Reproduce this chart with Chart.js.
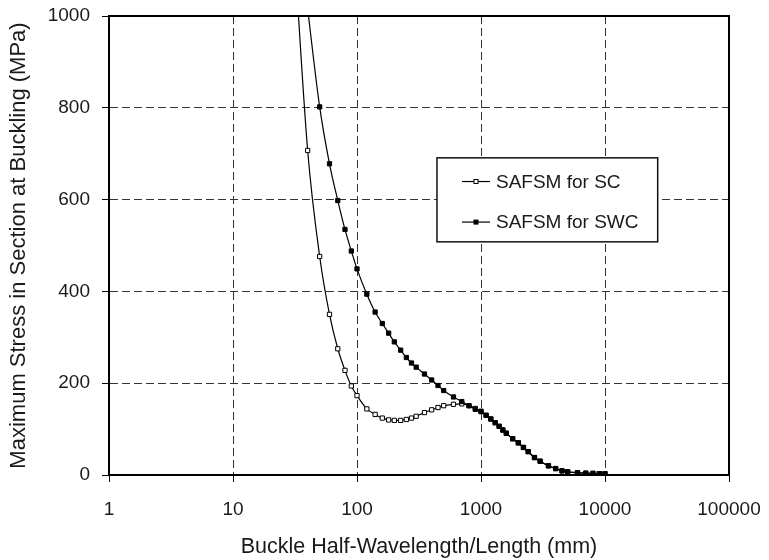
<!DOCTYPE html>
<html>
<head>
<meta charset="utf-8">
<script src="https://cdn.jsdelivr.net/npm/chart.js@4/dist/chart.umd.min.js"></script>
<style>
  html, body { margin: 0; padding: 0; background: #fff; }
  #wrap { width: 769px; height: 560px; }
</style>
</head>
<body>
<div id="wrap"><canvas id="c" width="769" height="560"></canvas></div>
<script>
// ---- data ----
const seriesNames = ['SAFSM for SC', 'SAFSM for SWC'];
const lengthsSC = [30,40,50,60,70,80,90,100,120,140,160,180,200,225,250,275,300,350,400,450,500,600,700,800,900,1000,1100,1200,1300,1400,1500,1600,1800,2000,2200,2400,2700,3000,3500,4000,4500,5000,6000,7000,8000,9000,10000];
const stressSC  = [1220,707,476,350,275,228,194,173,144,132,124,120,119,119,121,124,128,136,142,147,151,154,155,151,145,139,130,122,114,106,98,91,79,70,60,51,38,30,20,14,9,7,5,4,3.5,3,3];
const lengthsSWC = [40,50,60,70,80,90,100,120,140,160,180,200,225,250,275,300,350,400,450,500,600,700,800,900,1000,1100,1200,1300,1400,1500,1600,1800,2000,2200,2400,2700,3000,3500,4000,4500,5000,6000,7000,8000,9000,10000];
const stressSWC  = [1015,802,678,598,535,488,449,394,355,330,309,290,272,256,244,235,220,207,195,184,170,160,151,143,138,130,122,114,106,98,91,79,70,60,51,38,30,20,14,9,7,5,4,3.5,3,3];
const xTickValues = [1,10,100,1000,10000,100000];
const xTickLabels = ['1','10','100','1000','10000','100000'];
const yTickValues = [0,200,400,600,800,1000];
const yTickLabels = ['0','200','400','600','800','1000'];
const xTitle = 'Buckle Half-Wavelength/Length (mm)';
const yTitle = 'Maximum Stress in Section at Buckling (MPa)';

const toPts = (xs, ys) => xs.map((x, i) => ({ x: x, y: ys[i] }));

const FONT = '"Liberation Sans", Arial, Helvetica, sans-serif';

const frameAndLegend = {
  id: 'frameAndLegend',
  afterDraw(chart) {
    const ctx = chart.ctx;
    const ca = chart.chartArea;
    const w = ca.right - ca.left, h = ca.bottom - ca.top;
    ctx.save();
    // frame
    ctx.strokeStyle = '#000';
    ctx.lineWidth = 2;
    ctx.strokeRect(ca.left, ca.top, w, h);
    // legend box
    const bx = ca.left + 0.529 * w, by = ca.top + 0.309 * h;
    const bw = 0.356 * w, bh = 0.183 * h;
    ctx.fillStyle = '#fff';
    ctx.fillRect(bx, by, bw, bh);
    ctx.lineWidth = 1.5;
    ctx.strokeStyle = '#111';
    ctx.strokeRect(bx, by, bw, bh);
    const rows = [0.282, 0.765];
    chart.data.datasets.forEach((ds, i) => {
      const y = by + rows[i] * bh;
      const x0 = bx + 25, x1 = bx + 53;
      ctx.strokeStyle = '#000';
      ctx.lineWidth = 1.2;
      ctx.beginPath(); ctx.moveTo(x0, y); ctx.lineTo(x1, y); ctx.stroke();
      const s = 4;
      const mx = (x0 + x1) / 2;
      ctx.fillStyle = ds.pointBackgroundColor;
      ctx.fillRect(mx - s / 2, y - s / 2, s, s);
      ctx.lineWidth = 1;
      ctx.strokeRect(mx - s / 2, y - s / 2, s, s);
      ctx.fillStyle = '#1a1a1a';
      ctx.font = '19px ' + FONT;
      ctx.textBaseline = 'middle';
      ctx.textAlign = 'left';
      ctx.fillText(ds.label, bx + 59, y + 1);
    });
    ctx.restore();
  }
};

new Chart(document.getElementById('c'), {
  type: 'line',
  data: {
    datasets: [
      {
        label: seriesNames[0],
        data: toPts(lengthsSC, stressSC),
        borderColor: '#000',
        borderWidth: 1.2,
        pointStyle: 'rect',
        pointRadius: 3,
        pointBackgroundColor: '#fff',
        pointBorderColor: '#000',
        pointBorderWidth: 1,
        cubicInterpolationMode: 'monotone',
        order: 2
      },
      {
        label: seriesNames[1],
        data: toPts(lengthsSWC, stressSWC),
        borderColor: '#000',
        borderWidth: 1.2,
        pointStyle: 'rect',
        pointRadius: 3,
        pointBackgroundColor: '#000',
        pointBorderColor: '#000',
        pointBorderWidth: 1,
        cubicInterpolationMode: 'monotone',
        order: 1
      }
    ]
  },
  options: {
    responsive: false,
    animation: false,
    devicePixelRatio: 1,
    layout: { padding: { left: 0, top: 16, right: 40, bottom: 0 } },
    plugins: {
      legend: { display: false },
      tooltip: { enabled: false }
    },
    scales: {
      x: {
        type: 'logarithmic',
        min: 1, max: 100000,
        afterBuildTicks: (s) => { s.ticks = xTickValues.map(v => ({ value: v })); },
        afterFit: (s) => { s.height = 85; s.paddingLeft = 0; s.paddingRight = 0; },
        ticks: {
          autoSkip: false,
          maxRotation: 0,
          padding: 16,
          color: '#1a1a1a',
          font: { family: FONT, size: 19 },
          callback: (v, i) => xTickLabels[i]
        },
        grid: {
          color: '#333',
          lineWidth: 1,
          drawTicks: true,
          tickLength: 7,
          tickColor: '#000',
          tickWidth: 1,
          tickBorderDash: []
        },
        border: { display: true, color: '#000', width: 2, dash: [8, 4] },
        title: {
          display: true,
          text: xTitle,
          color: '#1a1a1a',
          font: { family: FONT, size: 21.5 },
          padding: { top: 10, bottom: 0 }
        }
      },
      y: {
        type: 'linear',
        min: 0, max: 1000,
        afterBuildTicks: (s) => { s.ticks = yTickValues.map(v => ({ value: v })); },
        afterFit: (s) => { s.width = 109; s.paddingTop = 0; s.paddingBottom = 0; },
        ticks: {
          padding: 12,
          color: '#1a1a1a',
          font: { family: FONT, size: 19 },
          callback: (v, i) => yTickLabels[i]
        },
        grid: {
          color: '#333',
          lineWidth: 1,
          drawTicks: true,
          tickLength: 7,
          tickColor: '#000',
          tickWidth: 1,
          tickBorderDash: []
        },
        border: { display: true, color: '#000', width: 2, dash: [8, 4] },
        title: {
          display: true,
          text: yTitle,
          color: '#1a1a1a',
          font: { family: FONT, size: 22 },
          padding: { top: 6, bottom: 0 }
        }
      }
    }
  },
  plugins: [frameAndLegend]
});
</script>
</body>
</html>
